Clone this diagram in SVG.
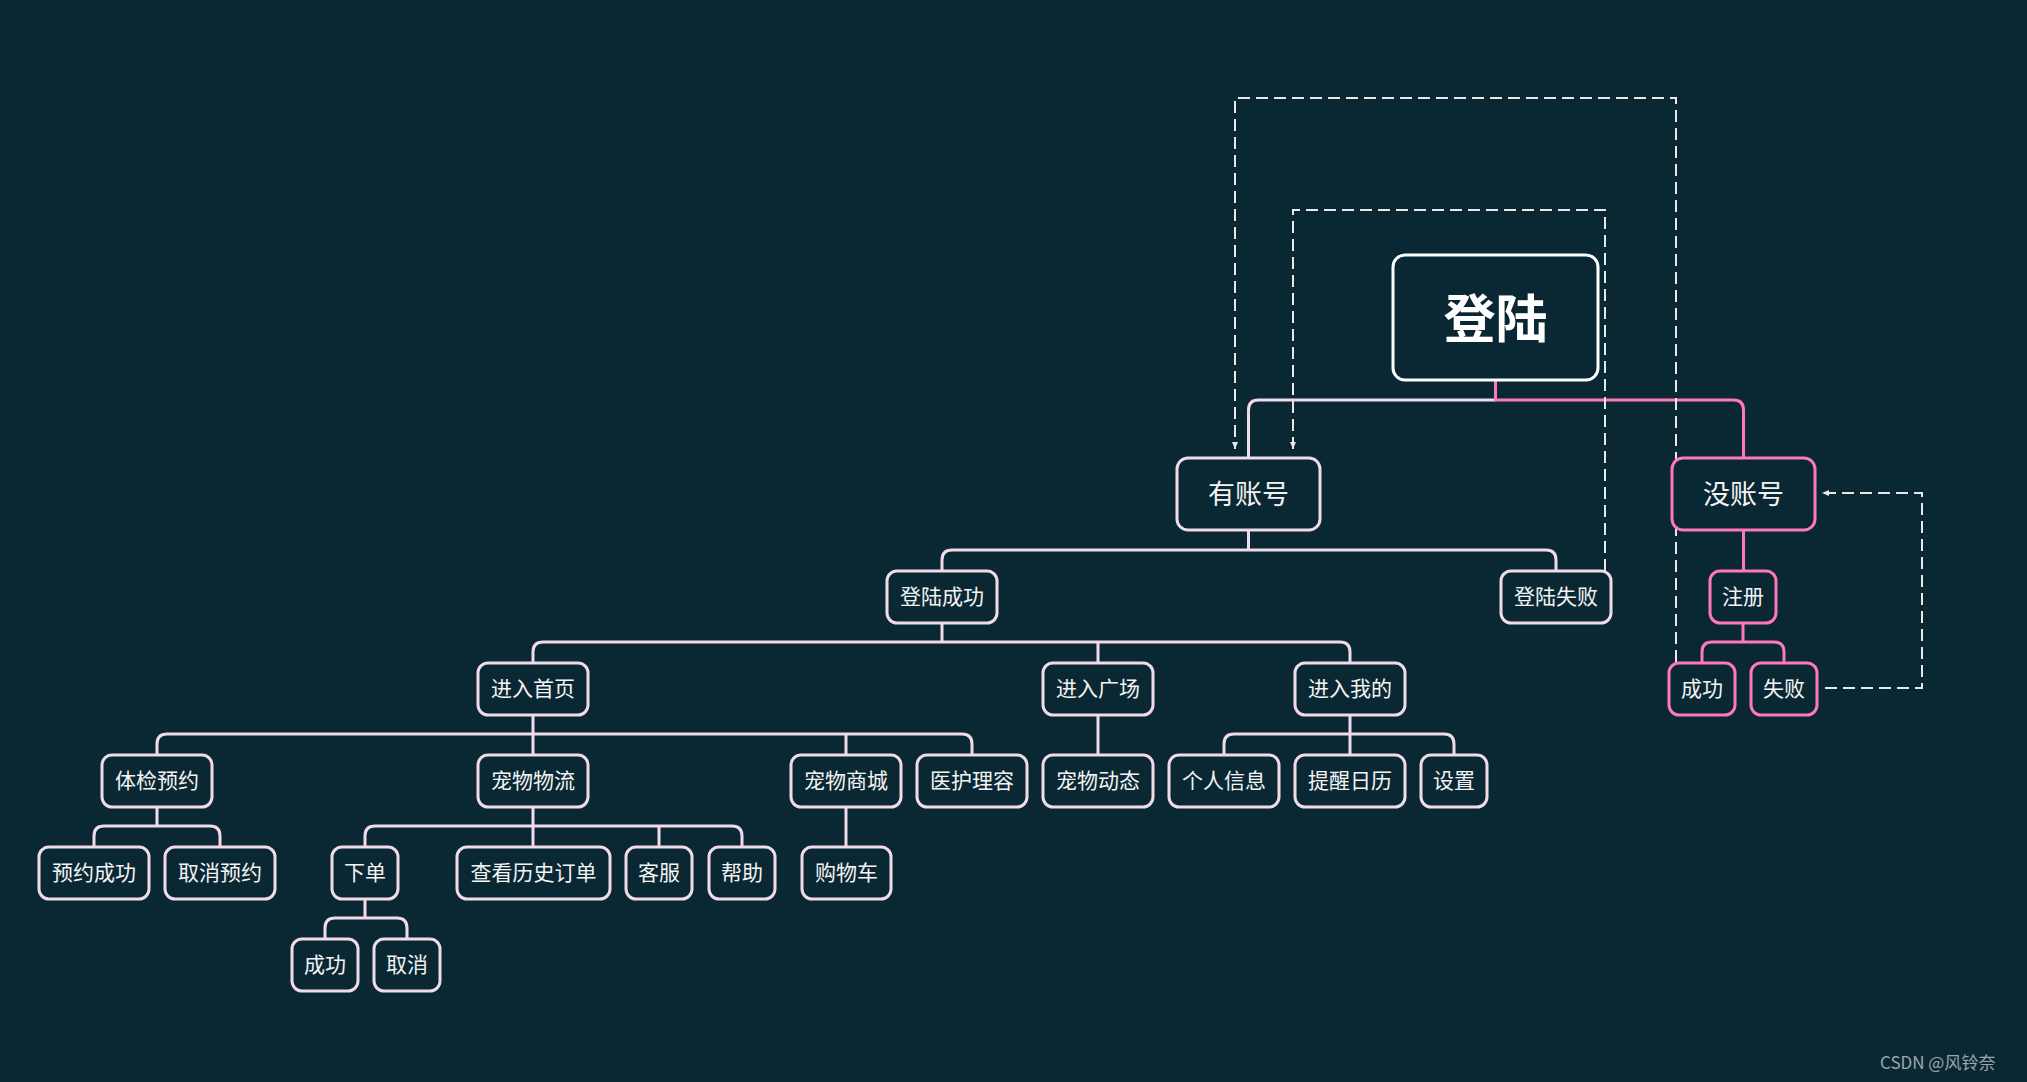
<svg xmlns="http://www.w3.org/2000/svg" width="2027" height="1082" viewBox="0 0 2027 1082">
<defs>
<style>
.n rect{fill:#0a2833;stroke:#f2dbe8;stroke-width:3}
.p rect{stroke:#ff78b8}
.r rect{stroke:#ffffff}
.n text{font-family:"Noto Sans CJK SC","Noto Sans",sans-serif;fill:#f4f4f4;text-anchor:middle;dominant-baseline:central;font-size:21px}
.m text{font-size:27px}
.r text{font-size:52px;font-weight:bold;fill:#ffffff}
.c{fill:none;stroke:#f2dbe8;stroke-width:3}
.cp{fill:none;stroke:#ff78b8;stroke-width:3}
.d{fill:none;stroke:#e8e8e8;stroke-width:2;stroke-dasharray:12 6}
.wm{font-family:"Noto Sans CJK SC","Noto Sans",sans-serif;font-size:17px;fill:#9aa6ab}
</style>
<marker id="ah" markerUnits="userSpaceOnUse" markerWidth="8" markerHeight="8" refX="7" refY="4" orient="auto">
<path d="M0,1 L7,4 L0,7 z" fill="#e8e8e8"/>
</marker>
</defs>
<rect width="2027" height="1082" fill="#0a2833"/>

<g id="connectors">
<path class="c" d="M1248.5 458 V410 Q1248.5 400 1258.5 400 H1495.5"/>
<path class="cp" d="M1495.5 380 V400 H1733.5 Q1743.5 400 1743.5 410 V458"/>
<path class="cp" d="M1743.5 530 V571"/>
<path class="cp" d="M1743 623 V642 M1702 663 V652 Q1702 642 1712 642 H1774 Q1784 642 1784 652 V663"/>
<path class="c" d="M1248.5 530 V550 M942 571 V560 Q942 550 952 550 H1546 Q1556 550 1556 560 V571"/>
<path class="c" d="M942 623 V642 M533 663 V652 Q533 642 543 642 H1340 Q1350 642 1350 652 V663 M1098 642 V663"/>
<path class="c" d="M533 715 V755 M157 755 V744 Q157 734 167 734 H962 Q972 734 972 744 V755 M846 734 V755"/>
<path class="c" d="M1098 715 V755"/>
<path class="c" d="M1350 715 V755 M1224 755 V744 Q1224 734 1234 734 H1444 Q1454 734 1454 744 V755"/>
<path class="c" d="M157 807 V826 M94 847 V836 Q94 826 104 826 H210 Q220 826 220 836 V847"/>
<path class="c" d="M533 807 V847 M365 847 V836 Q365 826 375 826 H732 Q742 826 742 836 V847 M659 826 V847"/>
<path class="c" d="M846 807 V847"/>
<path class="c" d="M365 899 V918 M325 939 V928 Q325 918 335 918 H397 Q407 918 407 928 V939"/>
<path class="d" d="M1676 662 V98 H1235 V449" marker-end="url(#ah)"/>
<path class="d" d="M1605 571 V210 H1293 V449" marker-end="url(#ah)"/>
<path class="d" d="M1825 688 H1922 V493 H1822" marker-end="url(#ah)"/>
</g>

<g id="root" class="n r"><rect x="1393" y="255" width="205" height="125" rx="12"/><text x="1495.5" y="315">登陆</text></g>
<g id="youzhanghao" class="n m"><rect x="1177" y="458" width="143" height="72" rx="11"/><text x="1248.5" y="492">有账号</text></g>
<g id="meizhanghao" class="n m p"><rect x="1672" y="458" width="143" height="72" rx="11"/><text x="1743.5" y="492">没账号</text></g>
<g id="dlcg" class="n"><rect x="887" y="571" width="110" height="52" rx="10"/><text x="942" y="595">登陆成功</text></g>
<g id="dlsb" class="n"><rect x="1501" y="571" width="110" height="52" rx="10"/><text x="1556" y="595">登陆失败</text></g>
<g id="zhuce" class="n p"><rect x="1710" y="571" width="66" height="52" rx="10"/><text x="1743" y="595">注册</text></g>
<g id="zc_cg" class="n p"><rect x="1669" y="663" width="66" height="52" rx="10"/><text x="1702" y="687">成功</text></g>
<g id="zc_sb" class="n p"><rect x="1751" y="663" width="66" height="52" rx="10"/><text x="1784" y="687">失败</text></g>
<g id="jrsy" class="n"><rect x="478" y="663" width="110" height="52" rx="10"/><text x="533" y="687">进入首页</text></g>
<g id="jrgc" class="n"><rect x="1043" y="663" width="110" height="52" rx="10"/><text x="1098" y="687">进入广场</text></g>
<g id="jrwd" class="n"><rect x="1295" y="663" width="110" height="52" rx="10"/><text x="1350" y="687">进入我的</text></g>
<g id="tjyy" class="n"><rect x="102" y="755" width="110" height="52" rx="10"/><text x="157" y="779">体检预约</text></g>
<g id="cwwl" class="n"><rect x="478" y="755" width="110" height="52" rx="10"/><text x="533" y="779">宠物物流</text></g>
<g id="cwsc" class="n"><rect x="791" y="755" width="110" height="52" rx="10"/><text x="846" y="779">宠物商城</text></g>
<g id="hhlr" class="n"><rect x="917" y="755" width="110" height="52" rx="10"/><text x="972" y="779">医护理容</text></g>
<g id="cwdt" class="n"><rect x="1043" y="755" width="110" height="52" rx="10"/><text x="1098" y="779">宠物动态</text></g>
<g id="grxx" class="n"><rect x="1169" y="755" width="110" height="52" rx="10"/><text x="1224" y="779">个人信息</text></g>
<g id="txrl" class="n"><rect x="1295" y="755" width="110" height="52" rx="10"/><text x="1350" y="779">提醒日历</text></g>
<g id="shezhi" class="n"><rect x="1421" y="755" width="66" height="52" rx="10"/><text x="1454" y="779">设置</text></g>
<g id="yycg" class="n"><rect x="39" y="847" width="110" height="52" rx="10"/><text x="94" y="871">预约成功</text></g>
<g id="qxyy" class="n"><rect x="165" y="847" width="110" height="52" rx="10"/><text x="220" y="871">取消预约</text></g>
<g id="xiadan" class="n"><rect x="332" y="847" width="66" height="52" rx="10"/><text x="365" y="871">下单</text></g>
<g id="cklsdd" class="n"><rect x="457" y="847" width="153" height="52" rx="10"/><text x="533.5" y="871">查看历史订单</text></g>
<g id="kefu" class="n"><rect x="626" y="847" width="66" height="52" rx="10"/><text x="659" y="871">客服</text></g>
<g id="bangzhu" class="n"><rect x="709" y="847" width="66" height="52" rx="10"/><text x="742" y="871">帮助</text></g>
<g id="gwc" class="n"><rect x="802" y="847" width="89" height="52" rx="10"/><text x="846.5" y="871">购物车</text></g>
<g id="xd_cg" class="n"><rect x="292" y="939" width="66" height="52" rx="10"/><text x="325" y="963">成功</text></g>
<g id="xd_qx" class="n"><rect x="374" y="939" width="66" height="52" rx="10"/><text x="407" y="963">取消</text></g>

<text class="wm" x="1880" y="1069">CSDN @风铃奈</text>
</svg>
